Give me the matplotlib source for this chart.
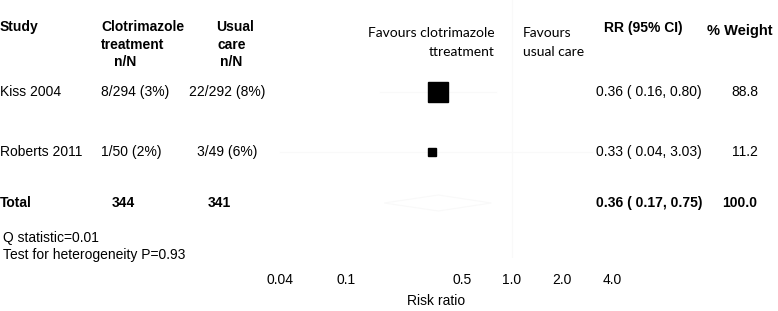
import numpy as np
import matplotlib
matplotlib.use("Agg")
import matplotlib.pyplot as plt

plt.rcParams['font.family'] = ['Liberation Sans', 'DejaVu Sans']

# ---- data ----
studies = ["Kiss 2004", "Roberts 2011"]
treat_counts = ["8/294 (3%)", "1/50 (2%)"]
care_counts = ["22/292 (8%)", "3/49 (6%)"]
rr = [0.36, 0.33]
ci_lo = [0.16, 0.04]
ci_hi = [0.80, 3.03]
weights = [88.8, 11.2]
total_treat = 344
total_care = 341
total_rr = 0.36
total_lo = 0.17
total_hi = 0.75
total_weight = 100.0
tick_values = [0.04, 0.1, 0.5, 1.0, 2.0, 4.0]
tick_labels = ["0.04", "0.1", "0.5", "1.0", "2.0", "4.0"]
q_stat = 0.01
p_het = 0.93

# ---- layout ----
W, H, DPI = 778, 311, 100
fig = plt.figure(figsize=(W / DPI, H / DPI), dpi=DPI)
row_y = [92, 152]
total_y = 203
faint = '#f9f9f9'

# text layer in pixel units
axt = fig.add_axes([0, 0, 1, 1])
axt.set_xlim(0, W)
axt.set_ylim(H, 0)
axt.axis('off')

fs = 10
# headers
axt.text(0, 27, "Study", fontsize=fs, fontweight='bold', va='center', ha='left')
axt.text(101, 27, "Clotrimazole", fontsize=fs, fontweight='bold', va='center', ha='left')
axt.text(101, 45, "treatment", fontsize=fs, fontweight='bold', va='center', ha='left')
axt.text(125, 62, "n/N", fontsize=fs, fontweight='bold', va='center', ha='center')
axt.text(235, 27, "Usual", fontsize=fs, fontweight='bold', va='center', ha='center')
axt.text(232, 45, "care", fontsize=fs, fontweight='bold', va='center', ha='center')
axt.text(231, 62, "n/N", fontsize=fs, fontweight='bold', va='center', ha='center')
fav_font = ['Lato', 'DejaVu Sans']
axt.text(495, 33, "Favours clotrimazole", fontsize=10, family=fav_font, va='center', ha='right')
axt.text(495, 52, "ttreatment", fontsize=10, family=fav_font, va='center', ha='right')
axt.text(523, 33, "Favours", fontsize=10, family=fav_font, va='center', ha='left')
axt.text(523, 52, "usual care", fontsize=10, family=fav_font, va='center', ha='left')
axt.text(643, 28, "RR (95% CI)", fontsize=fs, fontweight='bold', va='center', ha='center')
axt.text(707, 31, "% Weight", fontsize=10.5, fontweight='bold', va='center', ha='left')

for i, y in enumerate(row_y):
    axt.text(0, y, studies[i], fontsize=fs, va='center', ha='left')
    axt.text(101, y, treat_counts[i], fontsize=fs, va='center', ha='left')
    axt.text(227, y, care_counts[i], fontsize=fs, va='center', ha='center')
    axt.text(596, y, f"{rr[i]:.2f} ( {ci_lo[i]:.2f}, {ci_hi[i]:.2f})",
             fontsize=fs, va='center', ha='left')
    axt.text(745, y, f"{weights[i]:.1f}", fontsize=fs, va='center', ha='center')

axt.text(0, total_y, "Total", fontsize=fs, fontweight='bold', va='center', ha='left')
axt.text(123, total_y, f"{total_treat}", fontsize=fs, fontweight='bold', va='center', ha='center')
axt.text(219, total_y, f"{total_care}", fontsize=fs, fontweight='bold', va='center', ha='center')
axt.text(596, total_y, f"{total_rr:.2f} ( {total_lo:.2f}, {total_hi:.2f})",
         fontsize=fs, fontweight='bold', va='center', ha='left')
axt.text(740, total_y, f"{total_weight:.1f}", fontsize=fs, fontweight='bold', va='center', ha='center')

axt.text(3, 238, f"Q statistic={q_stat:.2f}", fontsize=fs, va='center', ha='left')
axt.text(3, 255, f"Test for heterogeneity P={p_het:.2f}", fontsize=fs, va='center', ha='left')

# forest plot axes (log scale)
x0, x1 = 0.02, 6.0
px_one, px_dec = 512, 166
left_px = px_one + px_dec * np.log10(x0)
right_px = px_one + px_dec * np.log10(x1)
bottom_px = 258
ax = fig.add_axes([left_px / W, (H - bottom_px) / H, (right_px - left_px) / W, bottom_px / H])
ax.patch.set_alpha(0)
ax.set_xscale('log')
ax.set_xlim(x0, x1)
ax.set_ylim(bottom_px, 0)
for s in ax.spines.values():
    s.set_visible(False)
ax.set_yticks([])
ax.set_xticks(tick_values)
ax.set_xticklabels(tick_labels)
ax.xaxis.set_minor_locator(matplotlib.ticker.NullLocator())
ax.tick_params(axis='x', length=0, pad=11, labelsize=fs)
ax.set_xlabel("Risk ratio", fontsize=fs, labelpad=5)

# faint null line
ax.axvline(1.0, ymin=0, ymax=1, color=faint, lw=0.8, zorder=0)
for i, y in enumerate(row_y):
    ax.plot([ci_lo[i], ci_hi[i]], [y, y], color=faint, lw=0.8, zorder=1)
    ax.plot([rr[i]], [y], marker='s', color='black', linestyle='none',
            markersize=1.53 * np.sqrt(weights[i]), zorder=2)
# faint diamond
h = 8
ax.fill([total_lo, total_rr, total_hi, total_rr], [total_y, total_y - h, total_y, total_y + h],
        facecolor='none', edgecolor=faint, lw=0.8)

fig.savefig("out.png", dpi=DPI)
